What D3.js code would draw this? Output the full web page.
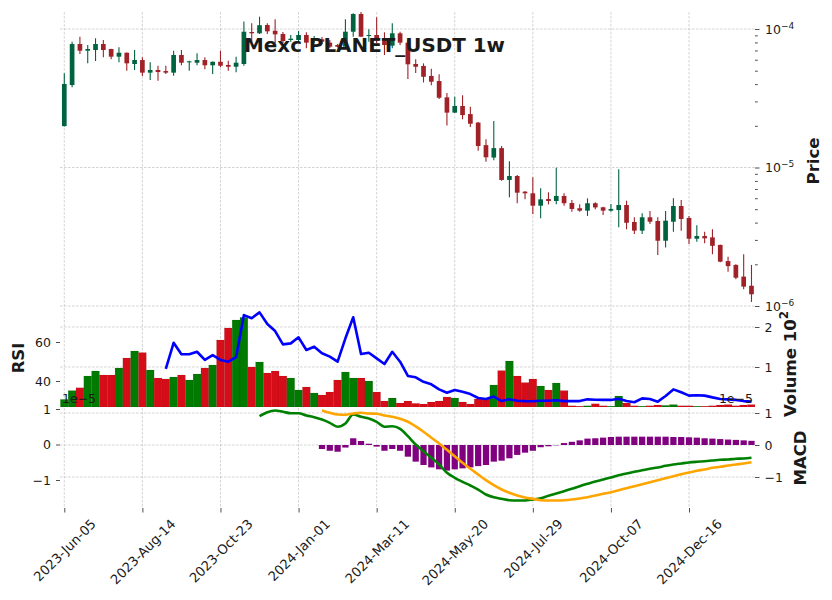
<!DOCTYPE html>
<html>
<head>
<meta charset="utf-8">
<script src="https://cdn.jsdelivr.net/npm/d3@7"></script>
<style>
	body { margin: 0; background: #fff; }
	svg { font-family: 'DejaVu Sans', sans-serif; }
	.grid line { stroke: #c2c2c2; stroke-width: 0.7; stroke-dasharray: 2.6,1.4; }
	.axis line { stroke: #222; stroke-width: 0.8; }
	.axis text, .lbl { fill: #1a1a1a; }
	.title { font-weight: bold; }
</style>
</head>
<body>
<svg id="chart" width="832" height="600"></svg>
<script>
/*global d3*/

// weekly candles, prices in micro-USDT (x 1e-6)
const UNIT = 1e-6
const open = [19.9, 39.4, 77.9, 69.7, 70.5, 77.9, 71.7, 63.1, 67.4, 55.9,
	59.7, 48.4, 50.6, 49.7, 48.4, 64.9, 57.5, 57.1, 59.7, 54.7,
	58.0, 55.0, 53.4, 55.9, 95.1, 93.1, 106.9, 97.1, 92.0, 83.3,
	83.3, 90.5, 82.3, 84.3, 79.7, 76.6, 74.5, 95.6, 128.3, 89.0,
	90.5, 85.7, 75.8, 93.1, 79.7, 55.9, 54.1, 45.8, 42.1, 32.1,
	24.9, 27.8, 24.3, 21.1, 14.5, 11.8, 13.8, 8.13, 8.68, 6.69,
	6.51, 5.30, 5.92, 5.73, 6.23, 5.54, 5.08, 4.88, 5.52, 5.16,
	4.88, 4.93, 5.36, 4.04, 3.50, 4.37, 4.11, 2.96, 4.06, 5.27,
	4.32, 3.06, 3.20, 3.13, 2.76, 2.11, 1.98, 1.63, 1.40]
const high = [47.9, 81.0, 88.0, 76.6, 85.7, 83.3, 72.0, 73.8, 67.6, 70.5,
	62.5, 57.5, 54.3, 54.3, 69.7, 70.5, 59.0, 66.8, 62.5, 58.2,
	69.7, 59.0, 63.1, 113.1, 109.9, 122.7, 109.9, 117.5, 95.1, 90.5,
	96.7, 94.7, 89.0, 87.5, 83.3, 77.9, 117.5, 129.8, 134.9, 99.5,
	121.5, 94.7, 109.9, 95.6, 83.3, 60.4, 56.5, 51.7, 47.1, 34.5,
	32.4, 33.3, 27.5, 21.3, 16.0, 21.7, 14.3, 11.1, 8.83, 6.77,
	8.50, 7.08, 6.62, 9.97, 6.51, 5.83, 5.42, 5.99, 5.61, 5.20,
	5.45, 9.70, 5.76, 4.37, 4.67, 4.85, 4.37, 4.85, 5.99, 5.83,
	4.47, 3.83, 3.44, 3.58, 2.78, 2.27, 2.00, 2.36, 1.98]
const low = [19.8, 37.9, 66.0, 56.5, 58.7, 62.5, 60.4, 57.5, 50.0, 50.6,
	45.8, 42.8, 42.3, 47.3, 46.0, 54.7, 50.0, 54.7, 51.2, 47.3,
	52.9, 50.0, 48.7, 54.3, 78.9, 92.0, 92.0, 78.9, 78.9, 81.0,
	79.2, 72.6, 79.2, 77.9, 72.9, 73.5, 74.3, 88.0, 87.5, 81.0,
	78.9, 64.9, 72.6, 76.6, 43.6, 48.1, 41.1, 39.3, 31.2, 20.1,
	24.7, 22.3, 19.6, 13.2, 11.0, 11.3, 8.03, 6.09, 5.52, 5.89,
	4.62, 4.30, 5.42, 5.42, 5.30, 4.80, 4.80, 4.47, 4.99, 4.54,
	4.80, 3.70, 3.58, 3.31, 3.31, 3.91, 2.33, 2.65, 3.44, 3.50,
	2.80, 2.91, 2.84, 2.36, 2.07, 1.77, 1.56, 1.32, 1.07]
const close = [40.1, 77.9, 69.7, 71.7, 77.9, 70.5, 63.1, 67.4, 56.5, 59.7,
	48.4, 50.6, 48.9, 48.4, 64.9, 57.1, 58.4, 59.7, 54.7, 58.0,
	54.3, 53.4, 57.1, 95.6, 93.1, 106.5, 96.2, 91.5, 81.9, 85.1,
	90.5, 79.7, 84.5, 81.0, 74.5, 74.5, 95.6, 128.3, 88.0, 90.5,
	82.3, 76.6, 93.1, 79.7, 55.6, 53.4, 45.2, 41.6, 31.9, 24.9,
	27.8, 23.9, 20.7, 14.3, 11.85, 13.8, 8.13, 8.68, 6.58, 6.51,
	5.30, 5.89, 5.73, 6.23, 5.52, 5.02, 4.88, 5.52, 5.15, 4.88,
	5.02, 5.36, 3.99, 3.50, 4.37, 4.06, 2.96, 4.13, 5.27, 4.25,
	3.06, 3.20, 3.08, 2.72, 2.09, 1.94, 1.60, 1.38, 1.215]

// volume, x 10^2
const volume = [0.19, 0.41, 0.48, 0.775, 0.90, 0.80, 0.80, 0.975, 1.225, 1.40,
	1.36, 0.925, 0.725, 0.70, 0.75, 0.80, 0.675, 0.825, 0.975, 1.05,
	1.675, 1.975, 2.175, 2.24, 1.0, 1.125, 0.85, 0.90, 0.775, 0.725,
	0.425, 0.50, 0.35, 0.30, 0.375, 0.675, 0.875, 0.725, 0.725, 0.65,
	0.375, 0.15, 0.225, 0.10, 0.15, 0.09, 0.075, 0.125, 0.15, 0.25,
	0.225, 0.125, 0.075, 0.20, 0.20, 0.55, 0.91, 1.15, 0.775, 0.61,
	0.70, 0.525, 0.425, 0.60, 0.41, 0.03, 0.02, 0.03, 0.08, 0.03,
	0.02, 0.275, 0.10, 0.03, 0.02, 0.03, 0.05, 0.04, 0.06, 0.03,
	0.03, 0.02, 0.02, 0.03, 0.05, 0.06, 0.03, 0.05, 0.06]

const rsiStart = 13
const rsi = [46.2, 59.6, 53.7, 53.7, 55.0, 50.8, 53.3, 50.8, 49.9, 52.2,
	73.8, 72.2, 75.2, 69.2, 65.6, 58.8, 59.3, 62.4, 55.9, 57.6,
	54.2, 52.5, 49.9, 61.9, 72.7, 53.8, 54.5, 51.6, 48.7, 55.0,
	49.9, 42.6, 41.9, 39.6, 38.3, 35.7, 34.0, 35.4, 34.5, 33.3,
	31.3, 30.8, 32.0, 29.7, 30.6, 29.9, 29.7, 29.6, 29.9, 29.9,
	30.1, 29.7, 29.7, 29.7, 30.6, 30.4, 30.3, 30.3, 30.9, 29.7,
	29.1, 31.1, 30.8, 29.4, 32.3, 35.7, 34.2, 32.5, 32.7, 32.5,
	31.6, 30.8, 30.6, 30.3, 29.7, 29.4]

// MACD values, x 1e-5
const macdStart = 25
const macd = [0.797, 0.910, 0.958, 0.921, 0.882, 0.882, 0.817, 0.769,
	0.704, 0.611, 0.499, 0.592, 0.845, 0.780, 0.732, 0.639, 0.499, 0.515,
	0.442, 0.234, 0.0, -0.189, -0.375, -0.563, -0.797, -0.938, -1.051, -1.155,
	-1.268, -1.408, -1.485, -1.530, -1.569, -1.577, -1.577, -1.549, -1.513, -1.445,
	-1.380, -1.315, -1.248, -1.175, -1.107, -1.042, -0.986, -0.930, -0.865, -0.817,
	-0.769, -0.724, -0.685, -0.648, -0.600, -0.563, -0.535, -0.507, -0.487, -0.470,
	-0.451, -0.431, -0.423, -0.403, -0.394, -0.375]
const signalStart = 33
const signal = [0.958, 0.893, 0.845, 0.837, 0.873, 0.893, 0.873, 0.865, 0.817, 0.780,
	0.724, 0.64, 0.51, 0.36, 0.19, 0.03, -0.15, -0.33, -0.515, -0.685,
	-0.845, -1.005, -1.146, -1.268, -1.361, -1.437, -1.493, -1.530, -1.569, -1.577,
	-1.577, -1.569, -1.549, -1.521, -1.485, -1.437, -1.389, -1.344, -1.287, -1.231,
	-1.175, -1.118, -1.062, -1.005, -0.949, -0.893, -0.837, -0.789, -0.741, -0.704,
	-0.656, -0.628, -0.592, -0.563, -0.535, -0.499]
const hist = [-0.125, -0.18, -0.21, -0.08, 0.21, 0.125, 0.04, -0.05, -0.18, -0.125,
	-0.18, -0.365, -0.52, -0.625, -0.70, -0.76, -0.80, -0.76, -0.73, -0.70,
	-0.66, -0.625, -0.52, -0.49, -0.415, -0.31, -0.24, -0.18, -0.07, -0.04,
	-0.01, 0.06, 0.10, 0.145, 0.20, 0.21, 0.23, 0.25, 0.26, 0.26,
	0.26, 0.26, 0.26, 0.26, 0.26, 0.25, 0.25, 0.24, 0.23, 0.21,
	0.20, 0.185, 0.17, 0.16, 0.145, 0.13]

const tickIdx = [0, 10, 20, 30, 40, 50, 60, 70, 80]
const tickLabels = ['2023-Jun-05', '2023-Aug-14', '2023-Oct-23', '2024-Jan-01', '2024-Mar-11',
	'2024-May-20', '2024-Jul-29', '2024-Oct-07', '2024-Dec-16']

const colors = {up: '#006340', down: '#a02128', volUp: '#007a00', volDown: '#d50d18'}

const svg = d3.select('#chart')
const left = 60, right = 755
const pPrice = [12, 308], pLow = [308, 407], pMacd = [407, 508]
const fs = 12.5

const x = d3.scaleLinear().domain([-0.55, 88.45]).range([left, right])
const step = x(1) - x(0)
const yPrice = d3.scaleLog().domain([1e-6, 1e-4]).range([306, 29])
const yVol = d3.scaleLinear().domain([0, 2]).range([407, 327])
const yRsi = d3.scaleLinear().domain([40, 60]).range([381, 342])
const yMacd = d3.scaleLinear().domain([-1, 1]).range([480, 409])
const yHist = d3.scaleLinear().domain([-1, 1]).range([477, 413])

const idx = d3.range(open.length)
const isUp = i => close[i] >= open[i]

// grid
const grid = svg.append('g').attr('class', 'grid')
grid.selectAll('.vx').data(tickIdx).enter().append('line')
	.attr('x1', d => x(d)).attr('x2', d => x(d))
	.attr('y1', pPrice[0]).attr('y2', pMacd[1])
const hLines = [
	...[1e-6, 1e-5, 1e-4].map(v => yPrice(v)),
	...[1, 2].map(v => yVol(v)),
	...[-1, 0, 1].map(v => yHist(v))
]
grid.selectAll('.hy').data(hLines).enter().append('line')
	.attr('x1', left).attr('x2', right)
	.attr('y1', d => d).attr('y2', d => d)

// clip paths per panel
const defs = svg.append('defs')
const clip = (id, [t, b]) => defs.append('clipPath').attr('id', id)
	.append('rect').attr('x', left).attr('y', t).attr('width', right - left).attr('height', b - t)
clip('c-price', pPrice); clip('c-low', pLow); clip('c-macd', pMacd)

// candles
const candles = svg.append('g').attr('clip-path', 'url(#c-price)')
candles.selectAll('.wick').data(idx).enter().append('line')
	.attr('x1', i => x(i)).attr('x2', i => x(i))
	.attr('y1', i => yPrice(high[i] * UNIT)).attr('y2', i => yPrice(low[i] * UNIT))
	.attr('stroke', i => isUp(i) ? colors.up : colors.down)
	.attr('stroke-width', 1.1)
candles.selectAll('.body').data(idx).enter().append('rect')
	.attr('x', i => x(i) - step * 0.3)
	.attr('width', step * 0.6)
	.attr('y', i => yPrice(Math.max(open[i], close[i]) * UNIT))
	.attr('height', i => Math.max(1, Math.abs(yPrice(open[i] * UNIT) - yPrice(close[i] * UNIT))))
	.attr('fill', i => isUp(i) ? colors.up : colors.down)

// volume + rsi panel
const low_ = svg.append('g').attr('clip-path', 'url(#c-low)')
low_.selectAll('.vol').data(idx).enter().append('rect')
	.attr('x', i => x(i) - step / 2)
	.attr('width', step)
	.attr('y', i => yVol(volume[i]))
	.attr('height', i => yVol(0) - yVol(volume[i]))
	.attr('fill', i => isUp(i) ? colors.volUp : colors.volDown)
	.attr('stroke', 'rgba(0,0,0,0.18)').attr('stroke-width', 0.4)
low_.append('path')
	.datum(rsi)
	.attr('fill', 'none').attr('stroke', '#0000ff').attr('stroke-width', 2.6)
	.attr('stroke-linejoin', 'round')
	.attr('d', d3.line().x((d, i) => x(i + rsiStart)).y(d => yRsi(d)))

// macd panel
const mp = svg.append('g').attr('clip-path', 'url(#c-macd)')
mp.selectAll('.hist').data(hist).enter().append('rect')
	.attr('x', (d, i) => x(i + signalStart) - step * 0.4)
	.attr('width', step * 0.8)
	.attr('y', d => yHist(Math.max(0, d)))
	.attr('height', d => Math.abs(yHist(d) - yHist(0)))
	.attr('fill', '#800080')
mp.append('path').datum(macd)
	.attr('fill', 'none').attr('stroke', '#008000').attr('stroke-width', 2.6)
	.attr('d', d3.line().curve(d3.curveMonotoneX).x((d, i) => x(i + macdStart)).y(d => yMacd(d)))
mp.append('path').datum(signal)
	.attr('fill', 'none').attr('stroke', '#ffa500').attr('stroke-width', 2.6)
	.attr('d', d3.line().curve(d3.curveMonotoneX).x((d, i) => x(i + signalStart)).y(d => yMacd(d)))

// axes
const style = g => g.attr('class', 'axis')
	.attr('font-family', "'DejaVu Sans', sans-serif").attr('font-size', fs)
	.call(g => g.select('.domain').remove())

const xAxis = svg.append('g').attr('transform', `translate(0,${pMacd[1]})`)
	.call(d3.axisBottom(x).tickValues(tickIdx).tickFormat((d, i) => tickLabels[i]).tickSize(4.5).tickSizeOuter(0))
	.call(style).attr('font-size', 13.2)
xAxis.selectAll('.tick text').each(function() {
	const half = (this.getComputedTextLength() + 13) * Math.SQRT1_2 / 2
	d3.select(this).attr('y', 0).attr('dy', '0.35em').attr('text-anchor', 'middle')
		.attr('transform', `translate(0,${9 + half}) rotate(-45)`)
})

// price (right, log)
const decades = [1e-6, 1e-5, 1e-4]
const minor = decades.flatMap(d => d3.range(2, 10).map(k => k * d))
	.filter(v => yPrice(v) > pPrice[0] && yPrice(v) < pPrice[1])
svg.append('g').attr('transform', `translate(${right},0)`)
	.call(d3.axisRight(yPrice).tickValues(minor).tickFormat('').tickSize(2.8).tickSizeOuter(0))
	.call(style)
const priceAxis = svg.append('g').attr('transform', `translate(${right},0)`)
	.call(d3.axisRight(yPrice).tickValues(decades).tickFormat('').tickSize(4.5).tickSizeOuter(0))
	.call(style)
priceAxis.selectAll('.tick').append('text')
	.attr('x', 10).attr('dy', '0.35em').attr('text-anchor', 'start')
	.each(function(d) {
		const t = d3.select(this)
		t.append('tspan').text('10')
		t.append('tspan').attr('dy', '-0.55em').attr('font-size', fs * 0.72)
			.text(`−${Math.round(-Math.log10(d))}`)
	})

// volume (right)
svg.append('g').attr('transform', `translate(${right},0)`)
	.call(d3.axisRight(yVol).tickValues([1, 2]).tickFormat(d3.format('d')).tickSize(4.5).tickPadding(5))
	.call(style)
// rsi (left)
svg.append('g').attr('transform', `translate(${left},0)`)
	.call(d3.axisLeft(yRsi).tickValues([40, 60]).tickFormat(d3.format('d')).tickSize(4).tickPadding(5))
	.call(style)
// macd left (lines) and right (histogram)
const minus = d => d < 0 ? `−${-d}` : `${d}`
svg.append('g').attr('transform', `translate(${left},0)`)
	.call(d3.axisLeft(yMacd).tickValues([-1, 0, 1]).tickFormat(minus).tickSize(4).tickPadding(5))
	.call(style)
svg.append('g').attr('transform', `translate(${right},0)`)
	.call(d3.axisRight(yHist).tickValues([-1, 0, 1]).tickFormat(minus).tickSize(4.5).tickPadding(5))
	.call(style)

// offset texts
svg.append('text').attr('class', 'lbl').attr('x', 62).attr('y', 403).attr('font-size', fs).text('1e−5')
svg.append('text').attr('class', 'lbl').attr('x', 753).attr('y', 403).attr('font-size', fs)
	.attr('text-anchor', 'end').text('1e−5')

// axis titles
const vtitle = (cx, cy, txt) => svg.append('text').attr('class', 'lbl title')
	.attr('font-size', 16.5).attr('text-anchor', 'middle').attr('dominant-baseline', 'central')
	.attr('transform', `translate(${cx},${cy}) rotate(-90)`).text(txt)
vtitle(813, 161, 'Price')
vtitle(18, 358, 'RSI')
vtitle(800, 458, 'MACD')
const volT = vtitle(790, 364, 'Volume  10')
volT.append('tspan').attr('dy', '-0.5em').attr('font-size', 12).text('2')

svg.append('text').attr('class', 'lbl title')
	.attr('x', 374.5).attr('y', 52).attr('text-anchor', 'middle').attr('font-size', 19.9)
	.text('Mexc PLANET_USDT 1w')
</script>
</body>
</html>
